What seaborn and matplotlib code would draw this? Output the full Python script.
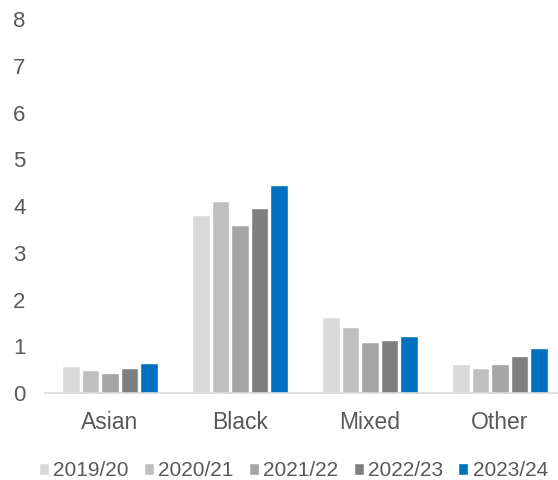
import pandas as pd
import seaborn as sns
import matplotlib.pyplot as plt

# ______________________________________________________ DATA
groups = ['Asian', 'Black', 'Mixed', 'Other']
years = ['2019/20', '2020/21', '2021/22', '2022/23', '2023/24']
asian = [0.57, 0.50, 0.43, 0.53, 0.64]
black = [3.82, 4.12, 3.60, 3.97, 4.45]
mixed = [1.62, 1.41, 1.09, 1.13, 1.23]
other = [0.63, 0.53, 0.63, 0.79, 0.96]
colours = ['#D9D9D9', '#BFBFBF', '#A5A5A5', '#7F7F7F', '#0070C0']

rows = []
for g, vals in zip(groups, [asian, black, mixed, other]):
    for y, v in zip(years, vals):
        rows.append({'group': g, 'year': y, 'value': v})
df = pd.DataFrame(rows)

# ______________________________________________________ PLOT
sns.set_style('white')
plt.rcParams['font.family'] = ['Liberation Sans', 'DejaVu Sans']

fig, ax = plt.subplots(figsize=(5.58, 4.8), dpi=100)
fig.subplots_adjust(left=0.0806, right=1.0125, bottom=0.181, top=0.96)

sns.barplot(data=df, x='group', y='value', hue='year', palette=colours,
            width=0.75, gap=0.11, saturation=1, ax=ax)

ax.set_ylim(0, 8)
ax.set_yticks(range(0, 9))
ax.set_xlabel('')
ax.set_ylabel('')
ax.tick_params(axis='both', colors='#595959', labelsize=16, length=0)
ax.tick_params(axis='x', pad=13, labelsize=16.5)
ax.tick_params(axis='y', pad=14)
for s in ['top', 'right', 'left']:
    ax.spines[s].set_visible(False)
ax.spines['bottom'].set_color('#D9D9D9')
ax.spines['bottom'].set_linewidth(1.2)

ax.legend(loc='center left', bbox_to_anchor=(0.0699, 0.019), bbox_transform=fig.transFigure,
          ncol=5, frameon=False, fontsize=15, labelcolor='#595959',
          handlelength=0.48, handleheight=0.48, handletextpad=0.2, columnspacing=0.74,
          borderaxespad=0, borderpad=0)

plt.savefig('out.png', dpi=100)
